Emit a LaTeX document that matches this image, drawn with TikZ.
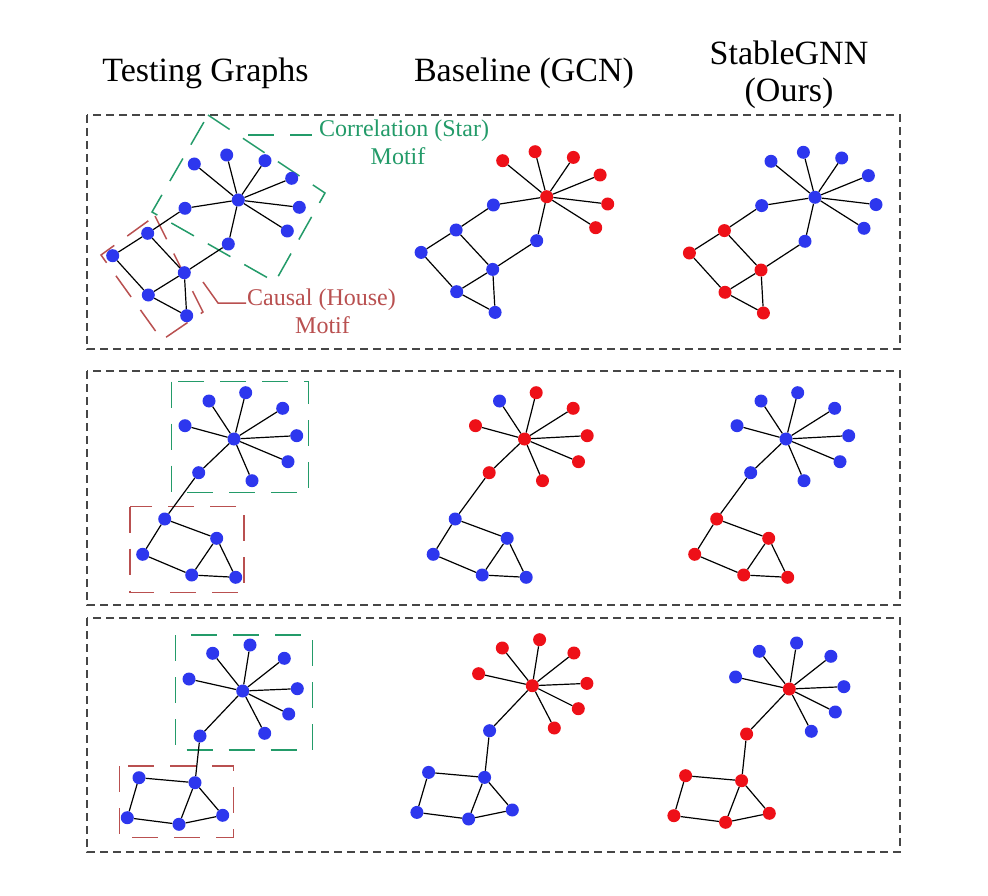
\documentclass[tikz,border=0pt]{standalone}
\usepackage{fontspec}
\setmainfont{Liberation Serif}
\definecolor{nblue}{RGB}{45,55,238}
\definecolor{nred}{RGB}{238,16,24}
\definecolor{mgreen}{RGB}{35,155,105}
\definecolor{mred}{RGB}{185,80,80}
\definecolor{panel}{RGB}{70,70,70}
\tikzset{
  gn/.style={circle, inner sep=0pt, minimum size=13pt, draw=none},
  bn/.style={gn, fill=nblue},
  rn/.style={gn, fill=nred},
  sH/.style={bn}, sL/.style={bn}, sX/.style={sL}, sC/.style={bn}, sA/.style={bn},
  edge/.style={draw=black, line width=1.2pt},
  panelbox/.style={draw=panel, line width=1.1pt, dash pattern=on 8pt off 5pt},
  gbox/.style={draw=mgreen, line width=1.5pt, dash pattern=on 26pt off 16pt},
  rbox/.style={draw=mred, line width=1.5pt, dash pattern=on 26pt off 16pt},
  head/.style={font=\fontsize{34}{40}\selectfont, anchor=base, inner sep=0pt},
  mlab/.style={font=\fontsize{24}{28}\selectfont, anchor=base, inner sep=0pt},
}
% Row 1 graph
\newcommand\graphOne[1]{%
  \node[sH] (#1H) at (238.3,200) {};
  \node[sL] (#1L1) at (194.3,164) {};
  \node[sL] (#1L2) at (226.7,155) {};
  \node[sL] (#1L3) at (265,160.7) {};
  \node[sL] (#1L4) at (291.7,178.3) {};
  \node[sL] (#1L5) at (299.3,207.3) {};
  \node[sL] (#1L6) at (287.3,231) {};
  \node[sC] (#1C1) at (185,208.3) {};
  \node[sC] (#1C2) at (228.3,244) {};
  \node[sA] (#1A) at (147.7,233.3) {};
  \node[sA] (#1B) at (112.7,255.7) {};
  \node[sA] (#1K) at (184.3,272.7) {};
  \node[sA] (#1D) at (148.3,295) {};
  \node[sA] (#1E) at (186.7,315.7) {};
  \draw[edge] (#1H)--(#1L1) (#1H)--(#1L2) (#1H)--(#1L3) (#1H)--(#1L4)
    (#1H)--(#1L5) (#1H)--(#1L6) (#1H)--(#1C1) (#1H)--(#1C2)
    (#1C1)--(#1A) (#1C2)--(#1K) (#1A)--(#1B) (#1A)--(#1K)
    (#1B)--(#1D) (#1D)--(#1K) (#1D)--(#1E) (#1K)--(#1E);
}
% Row 2 graph
\newcommand\graphTwo[1]{%
  \node[sH] (#1H) at (234,439) {};
  \node[sX] (#1L1) at (209,401) {};
  \node[sL] (#1L2) at (245.7,392.7) {};
  \node[sL] (#1L3) at (282.7,408.3) {};
  \node[sL] (#1L4) at (296.7,435.7) {};
  \node[sL] (#1L5) at (288,461.7) {};
  \node[sL] (#1L6) at (252,480.7) {};
  \node[sL] (#1L0) at (185,425.7) {};
  \node[sC] (#1C) at (198.7,472.7) {};
  \node[sA] (#1A) at (164.7,519) {};
  \node[sA] (#1B) at (142.7,554.3) {};
  \node[sA] (#1K) at (216.7,538.3) {};
  \node[sA] (#1D) at (191.7,575) {};
  \node[sA] (#1E) at (235.7,577.3) {};
  \draw[edge] (#1H)--(#1L0) (#1H)--(#1L1) (#1H)--(#1L2) (#1H)--(#1L3)
    (#1H)--(#1L4) (#1H)--(#1L5) (#1H)--(#1L6) (#1H)--(#1C)
    (#1C)--(#1A) (#1A)--(#1B) (#1A)--(#1K) (#1B)--(#1D)
    (#1D)--(#1K) (#1D)--(#1E) (#1K)--(#1E);
}
% Row 3 graph
\newcommand\graphThree[1]{%
  \node[sH] (#1H) at (242.7,691) {};
  \node[sL] (#1L1) at (212.7,653.3) {};
  \node[sL] (#1L2) at (250,645) {};
  \node[sL] (#1L3) at (284.3,658.3) {};
  \node[sL] (#1L4) at (297.3,688.7) {};
  \node[sL] (#1L5) at (288.7,714) {};
  \node[sL] (#1L6) at (264.7,733.3) {};
  \node[sL] (#1L0) at (189,679) {};
  \node[sC] (#1C) at (200,736) {};
  \node[sA] (#1A) at (195,782.7) {};
  \node[sA] (#1B) at (139,777.7) {};
  \node[sA] (#1G) at (127.3,817.7) {};
  \node[sA] (#1D) at (179,824.3) {};
  \node[sA] (#1E) at (222.7,815.3) {};
  \draw[edge] (#1H)--(#1L0) (#1H)--(#1L1) (#1H)--(#1L2) (#1H)--(#1L3)
    (#1H)--(#1L4) (#1H)--(#1L5) (#1H)--(#1L6) (#1H)--(#1C)
    (#1C)--(#1A) (#1A)--(#1B) (#1B)--(#1G) (#1G)--(#1D)
    (#1D)--(#1A) (#1A)--(#1E) (#1D)--(#1E);
}
\begin{document}
\begin{tikzpicture}[x=1pt,y=-1pt]
\fill[white] (0,0) rectangle (988,896);
\useasboundingbox (0,0) rectangle (988,896);

% headers
\node[head] (h1) at (205.5,82) {Testing Graphs};
\node[head] (h2) at (524,82) {Baseline (GCN)};
\node[head] (h3) at (789,65) {StableGNN};
\node[head] (h4) at (789,101.7) {(Ours)};

% panels
\draw[panelbox] (87,115) rectangle (900,349);
\draw[panelbox] (87,371) rectangle (900,605);
\draw[panelbox] (87,618) rectangle (900,852);

% motif boxes row 1
\draw[gbox] (208,115) -- (325,193) -- (275,282) -- (152,212) -- cycle;
\draw[rbox] (155,216) -- (203,312) -- (162,340) -- (101,255) -- cycle;
\coordinate (gl1) at (248,135);
\coordinate (gl2) at (312,135);
\draw[draw=mgreen, line width=1.5pt, dash pattern=on 26pt off 16pt] (gl1) -- (gl2);
\coordinate (rl1) at (203,282);
\coordinate (rl2) at (218,303);
\coordinate (rl3) at (246,303);
\draw[draw=mred, line width=1.5pt] (rl1) -- (rl2) -- (rl3);
\node[mlab, text=mgreen] (t1) at (404,137) {Correlation (Star)};
\node[mlab, text=mgreen] (t2) at (398,165) {Motif};
\node[mlab, text=mred] (t3) at (321.5,305) {Causal (House)};
\node[mlab, text=mred] (t4) at (322.5,333) {Motif};

% motif boxes rows 2, 3
\draw[gbox] (171.7,381.7) rectangle (308.3,492.3);
\draw[rbox] (130,506.7) rectangle (244,592.7);
\draw[gbox] (175.7,635) rectangle (312.3,750);
\draw[rbox] (119.3,766) rectangle (233.3,837.3);

% Row 1
\graphOne{a1}
\begin{scope}[shift={(308.4,-3.3)}, sH/.style={rn}, sL/.style={rn}]
  \graphOne{b1}
\end{scope}
\begin{scope}[shift={(576.7,-2.7)}, sA/.style={rn}]
  \graphOne{c1}
\end{scope}

% Row 2
\graphTwo{a2}
\begin{scope}[shift={(290.5,0)}, sH/.style={rn}, sL/.style={rn}, sX/.style={bn}, sC/.style={rn}]
  \graphTwo{b2}
\end{scope}
\begin{scope}[shift={(552,0)}, sA/.style={rn}]
  \graphTwo{c2}
\end{scope}

% Row 3
\graphThree{a3}
\begin{scope}[shift={(289.6,-5.3)}, sH/.style={rn}, sL/.style={rn}]
  \graphThree{b3}
\end{scope}
\begin{scope}[shift={(546.6,-2)}, sH/.style={rn}, sC/.style={rn}, sA/.style={rn}]
  \graphThree{c3}
\end{scope}
\end{tikzpicture}
\end{document}
